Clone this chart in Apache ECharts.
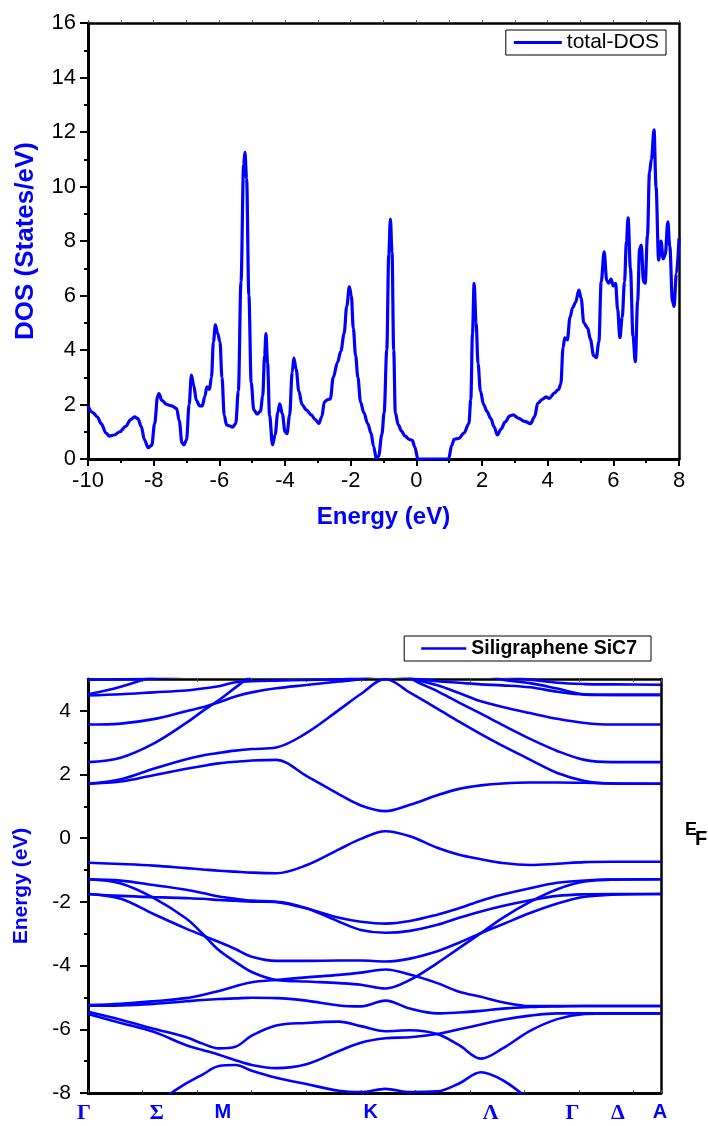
<!DOCTYPE html>
<html>
<head>
<meta charset="utf-8">
<script src="https://cdn.jsdelivr.net/npm/echarts@6/dist/echarts.min.js"></script>
<style>
  html, body { margin: 0; padding: 0; background: #ffffff; }
  #chart { width: 708px; height: 1126px; }
</style>
</head>
<body>
<div id="chart"></div>
<script>
// ---- Total density of states (energy in eV, DOS in states/eV) ----
const dosEnergy = [
  -10.0, -9.85, -9.72, -9.6, -9.45, -9.35, -9.2, -9.03, -8.85, -8.7, -8.58, -8.48, -8.38, -8.28, -8.17, -8.06,
  -7.97, -7.88, -7.84, -7.75, -7.6, -7.45, -7.3, -7.22, -7.14, -7.08, -7.0, -6.92, -6.85, -6.78, -6.7, -6.6,
  -6.52, -6.44, -6.38, -6.3, -6.24, -6.18, -6.12, -6.05, -5.98, -5.92, -5.85, -5.78, -5.7, -5.6, -5.5, -5.42,
  -5.34, -5.26, -5.22, -5.17, -5.1, -5.03, -4.95, -4.85, -4.75, -4.68, -4.62, -4.58, -4.53, -4.47, -4.38, -4.3,
  -4.22, -4.16, -4.08, -4.0, -3.94, -3.86, -3.78, -3.73, -3.66, -3.58, -3.48, -3.35, -3.2, -3.08, -2.97, -2.88,
  -2.8, -2.7, -2.62, -2.53, -2.4, -2.3, -2.2, -2.12, -2.04, -1.98, -1.92, -1.85, -1.78, -1.7, -1.6, -1.48,
  -1.38, -1.3, -1.22, -1.15, -1.05, -0.98, -0.9, -0.84, -0.79, -0.74, -0.69, -0.64, -0.55, -0.45, -0.35, -0.22,
  -0.12, -0.05, 0.05, 0.5, 0.98, 1.08, 1.15, 1.3, 1.45, 1.6, 1.66, 1.71, 1.76, 1.82, 1.88, 1.95,
  2.05, 2.15, 2.27, 2.36, 2.47, 2.58, 2.7, 2.85, 2.95, 3.1, 3.3, 3.48, 3.6, 3.7, 3.85, 3.95,
  4.05, 4.2, 4.33, 4.4, 4.47, 4.52, 4.6, 4.68, 4.76, 4.85, 4.95, 5.02, 5.1, 5.22, 5.3, 5.4,
  5.48, 5.56, 5.63, 5.72, 5.8, 5.86, 5.93, 6.0, 6.07, 6.13, 6.2, 6.27, 6.34, 6.4, 6.45, 6.52,
  6.6, 6.67, 6.74, 6.8, 6.85, 6.92, 6.97, 7.04, 7.1, 7.16, 7.24, 7.3, 7.38, 7.45, 7.52, 7.58,
  7.66, 7.72, 7.8, 7.85, 7.92, 8.0
];
const dosValue = [
  1.94, 1.7, 1.55, 1.3, 0.95, 0.84, 0.88, 1.0, 1.2, 1.45, 1.55, 1.48, 1.2, 0.7, 0.42, 0.5,
  1.3, 2.3, 2.4, 2.15, 2.0, 1.95, 1.85, 1.4, 0.6, 0.52, 0.7, 2.0, 3.08, 2.7, 2.15, 1.95,
  1.95, 2.3, 2.65, 2.55, 3.0, 4.3, 4.92, 4.6, 4.3, 3.0, 1.6, 1.25, 1.22, 1.17, 1.3, 2.5,
  6.5, 10.8, 11.25, 10.3, 6.0, 2.8, 1.8, 1.65, 1.75, 2.3, 3.8, 4.6, 3.5, 1.6, 0.52, 0.9,
  1.7, 2.02, 1.65, 1.0, 0.93, 1.6, 3.2, 3.7, 3.3, 2.5, 2.0, 1.8, 1.62, 1.45, 1.3, 1.55,
  2.1, 2.18, 2.2, 3.0, 3.55, 3.95, 4.6, 5.6, 6.32, 6.0, 4.8, 3.8, 3.0, 2.1, 1.7, 1.3,
  0.95, 0.45, 0.03, 0.1, 0.9, 1.7, 4.0, 7.5, 8.8, 7.6, 4.0, 1.7, 1.25, 1.02, 0.85, 0.72,
  0.68, 0.45, 0.0, 0.0, 0.0, 0.5, 0.72, 0.76, 0.95, 1.3, 2.2, 4.6, 6.45, 5.0, 3.5, 2.5,
  2.0, 1.75, 1.48, 1.2, 0.88, 1.1, 1.35, 1.58, 1.62, 1.5, 1.38, 1.3, 1.55, 2.05, 2.2, 2.28,
  2.22, 2.42, 2.55, 2.75, 4.1, 4.45, 4.37, 5.2, 5.55, 5.75, 6.2, 5.9, 5.0, 4.8, 4.4, 3.8,
  3.72, 4.3, 6.5, 7.6, 6.55, 6.45, 6.6, 6.35, 6.45, 5.5, 4.45, 5.2, 6.5, 8.0, 8.85, 7.0,
  4.5, 3.57, 5.8, 7.7, 7.85, 6.5, 6.45, 8.2, 10.5, 11.0, 12.08, 10.0, 7.3, 8.0, 7.35, 7.5,
  8.7, 7.8, 5.8, 5.6, 6.8, 8.1
];

// ---- Band structure (path coordinate along Γ–Σ–M–K–Λ–Γ–Δ–A, energies in eV) ----
const kPath = [0, 0.6, 1.2, 1.8, 2.1, 2.4, 2.7, 3.0, 3.45, 4.0, 4.6, 5.0, 5.45, 5.9, 6.4, 6.8, 7.2, 7.6, 8.1, 8.6, 9.1, 9.6, 10.5];

const band01 = [4.98, 4.99, 5.02, 5.1, 5.15, 5.2, 5.25, 5.3, 5.35, 5.4, 5.45, 5.5, 5.55, 5.5, 5.4, 5.3, 5.2, 5.1, 4.98, 4.88, 4.84, 4.83, 4.82];
const band02 = [4.52, 4.76, 5.08, 5.4, 5.5, 5.6, 5.7, 5.8, 5.9, 5.95, 6.0, 6.0, 6.0, 5.8, 5.6, 5.4, 5.2, 4.98, 4.87, 4.7, 4.52, 4.5, 4.5];
const band03 = [4.48, 4.52, 4.58, 4.64, 4.7, 4.77, 4.9, 4.93, 4.95, 4.97, 4.99, 5.05, 5.1, 5.02, 4.93, 4.88, 4.83, 4.8, 4.74, 4.6, 4.51, 4.5, 4.5];
const band04 = [3.57, 3.6, 3.74, 3.99, 4.11, 4.27, 4.45, 4.58, 4.71, 4.81, 4.92, 5.0, 5.15, 5.02, 4.8, 4.56, 4.3, 4.12, 3.93, 3.75, 3.62, 3.57, 3.57];
const band05 = [2.39, 2.53, 2.97, 3.62, 3.99, 4.34, 4.73, 5.1, 5.5, 5.8, 6.0, 6.0, 5.9, 5.05, 4.62, 4.26, 3.91, 3.55, 3.12, 2.74, 2.46, 2.39, 2.39];
const band06 = [1.71, 1.85, 2.18, 2.48, 2.6, 2.68, 2.75, 2.8, 2.85, 3.3, 4.03, 4.53, 5.0, 4.57, 4.07, 3.66, 3.27, 2.9, 2.47, 2.05, 1.8, 1.72, 1.71];
const band07 = [1.71, 1.78, 1.98, 2.18, 2.27, 2.35, 2.4, 2.44, 2.46, 1.96, 1.38, 1.03, 0.85, 1.05, 1.35, 1.55, 1.66, 1.72, 1.75, 1.75, 1.74, 1.72, 1.71];
const band08 = [-0.77, -0.81, -0.86, -0.94, -0.98, -1.02, -1.05, -1.08, -1.1, -0.85, -0.35, -0.02, 0.22, 0.06, -0.3, -0.52, -0.66, -0.78, -0.84, -0.8, -0.75, -0.74, -0.74];
const band09 = [-1.29, -1.33, -1.47, -1.62, -1.72, -1.83, -1.9, -1.96, -2.0, -2.2, -2.5, -2.62, -2.68, -2.6, -2.4, -2.2, -1.96, -1.77, -1.57, -1.4, -1.33, -1.3, -1.29];
const band10 = [-1.29, -1.42, -1.87, -2.52, -3.0, -3.52, -3.88, -4.2, -4.45, -4.5, -4.55, -4.6, -4.72, -4.45, -3.92, -3.45, -2.98, -2.5, -2.0, -1.6, -1.36, -1.3, -1.29];
const band11 = [-1.75, -1.81, -1.85, -1.88, -1.9, -1.94, -1.96, -1.99, -2.0, -2.2, -2.62, -2.88, -2.97, -2.91, -2.72, -2.5, -2.3, -2.13, -1.95, -1.81, -1.76, -1.75, -1.75];
const band12 = [-1.75, -1.9, -2.38, -2.84, -3.05, -3.26, -3.48, -3.72, -3.85, -3.85, -3.84, -3.84, -3.87, -3.78, -3.55, -3.28, -2.98, -2.7, -2.35, -2.05, -1.84, -1.77, -1.75];
const band13 = [-5.24, -5.2, -5.12, -5.02, -4.92, -4.8, -4.65, -4.52, -4.45, -4.37, -4.29, -4.22, -4.12, -4.28, -4.55, -4.82, -4.98, -5.15, -5.27, -5.27, -5.27, -5.27, -5.27];
const band14 = [-5.26, -5.25, -5.2, -5.12, -5.08, -5.05, -5.03, -5.01, -5.02, -5.1, -5.25, -5.28, -5.1, -5.35, -5.5, -5.47, -5.42, -5.35, -5.3, -5.28, -5.27, -5.27, -5.27];
const band15 = [-5.45, -5.7, -5.98, -6.25, -6.45, -6.6, -6.55, -6.2, -5.88, -5.8, -5.76, -5.9, -6.06, -6.03, -6.15, -6.5, -6.92, -6.6, -6.05, -5.68, -5.52, -5.5, -5.5];
const band16 = [-5.52, -5.8, -6.08, -6.5, -6.65, -6.8, -6.97, -7.12, -7.22, -7.1, -6.68, -6.42, -6.28, -6.25, -6.15, -6.0, -5.85, -5.7, -5.57, -5.5, -5.5, -5.5, -5.5];
const band17 = [-9.4, -8.9, -8.35, -7.7, -7.42, -7.15, -7.12, -7.3, -7.52, -7.72, -7.93, -7.97, -7.87, -7.97, -7.95, -7.7, -7.35, -7.6, -8.2, -8.7, -9.1, -9.4, -9.6];

const allBands = [band01, band02, band03, band04, band05, band06, band07, band08, band09,
                  band10, band11, band12, band13, band14, band15, band16, band17];

// High-symmetry point labels along the path
const kLabels = ['Γ', 'Σ', 'M', 'K', 'Λ', 'Γ', 'Δ', 'A'];
const kLabelPos = [0, 1.26, 2.47, 5.18, 7.38, 8.88, 9.71, 10.48];
const greekLabels = ['Γ', 'Σ', 'Λ', 'Δ'];

// Tick values
const dosTicksY = [0, 2, 4, 6, 8, 10, 12, 14, 16];
const bandMajorTicks = [-8, -6, -4, -2, 0, 2, 4];
const bandMinorTicks = [-7, -5, -3, -1, 1, 3];

const BLUE = '#0000ff';
const SANS = 'Arial, "Liberation Sans", Helvetica, sans-serif';
const SERIF = '"Times New Roman", "Liberation Serif", serif';

const chart = echarts.init(document.getElementById('chart'), null, { renderer: 'canvas' });

const frameLine = { show: true, onZero: false, lineStyle: { color: '#000', width: 2.5 } };
const mainLine = { show: true, onZero: false, lineStyle: { color: '#000', width: 3 } };

const bandSeries = allBands.map(function (b) {
  return {
    type: 'line',
    name: 'Siligraphene SiC7',
    xAxisIndex: 2,
    yAxisIndex: 2,
    data: kPath.map(function (k, i) { return [k, b[i]]; }),
    smooth: 0.35,
    symbol: 'none',
    lineStyle: { color: BLUE, width: 2.6 },
    itemStyle: { color: BLUE },
    clip: true,
    silent: true
  };
});

const option = {
  animation: false,
  backgroundColor: '#ffffff',
  textStyle: { fontFamily: SANS },
  grid: [
    { left: 88, top: 23, width: 591, height: 436 },
    { left: 88, top: 679, width: 573, height: 414 }
  ],
  legend: [
    {
      data: ['total-DOS'],
      right: 42, top: 30,
      icon: 'rect',
      itemWidth: 48, itemHeight: 3, itemGap: 0,
      padding: [2, 7, 2, 8],
      borderColor: '#000', borderWidth: 1, borderRadius: 0,
      textStyle: { fontSize: 21, color: '#000', fontFamily: SANS, lineHeight: 21 },
      selectedMode: false
    },
    {
      data: ['Siligraphene SiC7'],
      right: 57, top: 636,
      icon: 'rect',
      itemWidth: 45, itemHeight: 2.6, itemGap: 0,
      padding: [2, 14, 2, 17],
      borderColor: '#000', borderWidth: 1, borderRadius: 0,
      textStyle: { fontSize: 19.5, fontWeight: 'bold', color: '#000', fontFamily: SANS, lineHeight: 21 },
      selectedMode: false
    }
  ],
  xAxis: [
    { // DOS energy axis
      type: 'value', gridIndex: 0, position: 'bottom',
      min: -10, max: 8, interval: 2,
      axisLine: mainLine,
      axisTick: { show: true, inside: false, length: 7, lineStyle: { color: '#000', width: 2 } },
      minorTick: { show: true, splitNumber: 2, length: 4, lineStyle: { color: '#000', width: 2 } },
      axisLabel: { fontSize: 22, color: '#000', margin: 11, fontFamily: SANS },
      splitLine: { show: false },
      name: 'Energy (eV)', nameLocation: 'middle', nameGap: 46,
      nameTextStyle: { fontSize: 24, fontWeight: 'bold', color: BLUE, fontFamily: SANS }
    },
    { // top frame of the DOS panel
      type: 'value', gridIndex: 0, position: 'top',
      min: -10, max: 8, interval: 1,
      axisLine: frameLine,
      axisTick: { show: true, inside: false, length: 3, lineStyle: { color: '#555', width: 1 } },
      axisLabel: { show: false }, splitLine: { show: false }
    },
    { // band path axis (ticks only)
      type: 'value', gridIndex: 1, position: 'bottom',
      min: 0, max: 10.5, interval: 1,
      axisLine: mainLine,
      axisTick: { show: true, inside: true, length: 3, lineStyle: { color: '#555', width: 1 } },
      axisLabel: { show: false }, splitLine: { show: false }
    },
    { // high-symmetry point labels
      type: 'value', gridIndex: 1, position: 'bottom',
      min: 0, max: 10.5,
      axisLine: { show: false, onZero: false },
      axisTick: { show: false },
      splitLine: { show: false },
      axisLabel: {
        show: true, margin: 9,
        customValues: kLabelPos,
        formatter: function (v) {
          let idx = 0;
          for (let i = 0; i < kLabelPos.length; i++) {
            if (Math.abs(kLabelPos[i] - v) < 1e-6) { idx = i; }
          }
          const t = kLabels[idx];
          if (idx === 0) { return '{g0|' + t + '}'; }
          return (greekLabels.indexOf(t) >= 0 ? '{g|' : '{l|') + t + '}';
        },
        rich: {
          g0: { fontFamily: SERIF, fontWeight: 'bold', fontSize: 22, color: BLUE, padding: [0, 8, 0, 0] },
          g: { fontFamily: SERIF, fontWeight: 'bold', fontSize: 22, color: BLUE },
          l: { fontFamily: SANS, fontWeight: 'bold', fontSize: 20, color: BLUE }
        }
      }
    },
    { // top frame of the band panel
      type: 'value', gridIndex: 1, position: 'top',
      min: 0, max: 10.5, interval: 1,
      axisLine: frameLine,
      axisTick: { show: true, inside: true, length: 3, lineStyle: { color: '#555', width: 1 } },
      axisLabel: { show: false }, splitLine: { show: false }
    }
  ],
  yAxis: [
    { // DOS axis
      type: 'value', gridIndex: 0, position: 'left',
      min: 0, max: 16, interval: 2,
      axisLine: mainLine,
      axisTick: { show: true, inside: false, length: 8, lineStyle: { color: '#000', width: 2 } },
      minorTick: { show: true, splitNumber: 2, length: 4, lineStyle: { color: '#000', width: 2 } },
      axisLabel: { fontSize: 22, color: '#000', margin: 12, fontFamily: SANS,
                   customValues: dosTicksY },
      splitLine: { show: false },
      name: 'DOS (States/eV)', nameLocation: 'middle', nameGap: 49, nameRotate: 90,
      nameTextStyle: { fontSize: 26, fontWeight: 'bold', color: BLUE, fontFamily: SANS }
    },
    { // right frame of the DOS panel
      type: 'value', gridIndex: 0, position: 'right',
      min: 0, max: 16,
      axisLine: frameLine, axisTick: { show: false },
      axisLabel: { show: false }, splitLine: { show: false }
    },
    { // band energy axis
      type: 'value', gridIndex: 1, position: 'left',
      min: -8, max: 5,
      axisLine: mainLine,
      axisTick: { show: true, inside: false, length: 8, customValues: bandMajorTicks,
                  lineStyle: { color: '#000', width: 2 } },
      axisLabel: { fontSize: 21, color: '#000', margin: 17, fontFamily: SANS,
                   customValues: bandMajorTicks },
      splitLine: { show: false },
      name: 'Energy (eV)', nameLocation: 'middle', nameGap: 56, nameRotate: 90,
      nameTextStyle: { fontSize: 21, fontWeight: 'bold', color: BLUE, fontFamily: SANS }
    },
    { // minor ticks on the band energy axis
      type: 'value', gridIndex: 1, position: 'left',
      min: -8, max: 5,
      axisLine: { show: false, onZero: false },
      axisTick: { show: true, inside: false, length: 4, customValues: bandMinorTicks,
                  lineStyle: { color: '#000', width: 2 } },
      axisLabel: { show: false }, splitLine: { show: false }
    },
    { // right frame of the band panel
      type: 'value', gridIndex: 1, position: 'right',
      min: -8, max: 5,
      axisLine: frameLine, axisTick: { show: false },
      axisLabel: { show: false }, splitLine: { show: false }
    }
  ],
  graphic: [
    { type: 'text', left: 685, top: 821,
      style: { text: 'E', font: 'bold 18px ' + SANS, fill: '#000' } },
    { type: 'text', left: 695, top: 829,
      style: { text: 'F', font: 'bold 20px ' + SANS, fill: '#000' } }
  ],
  series: [
    {
      type: 'line',
      name: 'total-DOS',
      xAxisIndex: 0,
      yAxisIndex: 0,
      data: dosEnergy.map(function (e, i) { return [e, dosValue[i]]; }),
      smooth: 0.35,
      smoothMonotone: 'x',
      symbol: 'none',
      lineStyle: { color: BLUE, width: 3.2 },
      itemStyle: { color: BLUE },
      clip: true,
      silent: true
    }
  ].concat(bandSeries)
};

chart.setOption(option);
</script>
</body>
</html>
